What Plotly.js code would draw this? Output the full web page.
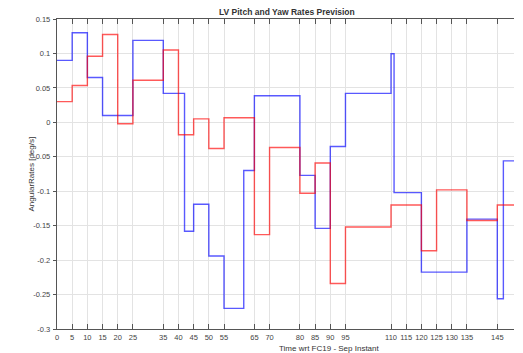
<!DOCTYPE html>
<html>
<head>
<meta charset="utf-8">
<script src="https://cdn.plot.ly/plotly-3.0.1.min.js"></script>
<style>html,body{margin:0;padding:0;background:#fff;}#chart{width:523px;height:353px;}</style>
</head>
<body>
<div id="chart"></div>
<script>
// Blue series (step breakpoints and values)
var blueTime = [0,5,10,15,25,35,42,45,50,55,61.5,65,80,85,90,95,110,111,120,135,145,147,150.5];
var blueRate = [0.09,0.13,0.065,0.01,0.119,0.042,-0.158,-0.119,-0.194,-0.270,-0.070,0.0385,-0.077,-0.154,-0.035,0.042,0.0995,-0.102,-0.2175,-0.1405,-0.256,-0.056,-0.056];
// Red series
var redTime = [0,5,10,15,20,25,35,40,45,50,55,65,70,80,85,90,95,110,120,125,135,145,150.5];
var redRate = [0.03,0.0535,0.096,0.1275,-0.002,0.061,0.105,-0.018,0.005,-0.038,0.0066,-0.163,-0.0365,-0.103,-0.059,-0.234,-0.152,-0.12,-0.1865,-0.098,-0.1425,-0.12,-0.12];
// Axis ticks
var xTicks = [0,5,10,15,20,25,35,40,45,50,55,65,70,80,85,90,95,110,115,120,125,130,135,145];
var yTicks = [-0.3,-0.25,-0.2,-0.15,-0.1,-0.05,0,0.05,0.1,0.15];
var yTickText = ['-0.3','-0.25','-0.2','-0.15','-0.1','-0.05','0','0.05','0.1','0.15'];

var traces = [
  {x: blueTime, y: blueRate, mode: 'lines', line: {shape: 'hv', color: 'rgba(0,0,255,0.65)', width: 1.4}, showlegend: false, hoverinfo: 'skip'},
  {x: redTime, y: redRate, mode: 'lines', line: {shape: 'hv', color: 'rgba(255,0,0,0.65)', width: 1.4}, showlegend: false, hoverinfo: 'skip'}
];

var tickFont = {family: 'Liberation Sans, Arial, sans-serif', size: 7.5, color: '#444'};
var layout = {
  width: 523, height: 353,
  margin: {l: 56.5, r: 9.3, t: 18.5, b: 24},
  paper_bgcolor: '#fff', plot_bgcolor: '#fff',
  title: {text: '<b>LV Pitch and Yaw Rates Prevision</b>', font: {family: 'Liberation Sans, Arial, sans-serif', size: 8.5, color: '#333'},
          x: 0.503, xref: 'paper', xanchor: 'center', y: 1 - 12/353, yref: 'container', yanchor: 'middle'},
  xaxis: {range: [0, 150.5], tickmode: 'array', tickvals: xTicks, ticktext: xTicks.map(String),
          showgrid: true, gridcolor: '#e3e3e3', gridwidth: 1, zeroline: false,
          showline: true, linecolor: '#555', linewidth: 1.2, mirror: 'ticks',
          ticks: 'inside', ticklen: 5, tickcolor: '#555', tickwidth: 1, tickfont: tickFont, ticklabelstandoff: 1},
  yaxis: {range: [-0.3, 0.15], tickmode: 'array', tickvals: yTicks, ticktext: yTickText,
          showgrid: true, gridcolor: '#e3e3e3', gridwidth: 1, zeroline: false,
          showline: true, linecolor: '#555', linewidth: 1.2,
          ticks: 'outside', ticklen: 3, tickcolor: '#555', tickwidth: 1, tickfont: tickFont, ticklabelstandoff: 1},
  annotations: [
    {text: 'Time wrt FC19 - Sep Instant', xref: 'paper', yref: 'paper', x: (329.5-56.5)/457.2, y: (329-349)/310.5,
     xanchor: 'center', yanchor: 'middle', showarrow: false, font: {family: 'Liberation Sans, Arial, sans-serif', size: 8, color: '#333'}},
    {text: 'AngularRates [deg/s]', xref: 'paper', yref: 'paper', x: (30-56.5)/457.2, y: 0.5, textangle: -90,
     xanchor: 'center', yanchor: 'middle', showarrow: false, font: {family: 'Liberation Sans, Arial, sans-serif', size: 8, color: '#333'}}
  ]
};
Plotly.newPlot('chart', traces, layout, {staticPlot: true, displayModeBar: false});
</script>
</body>
</html>
